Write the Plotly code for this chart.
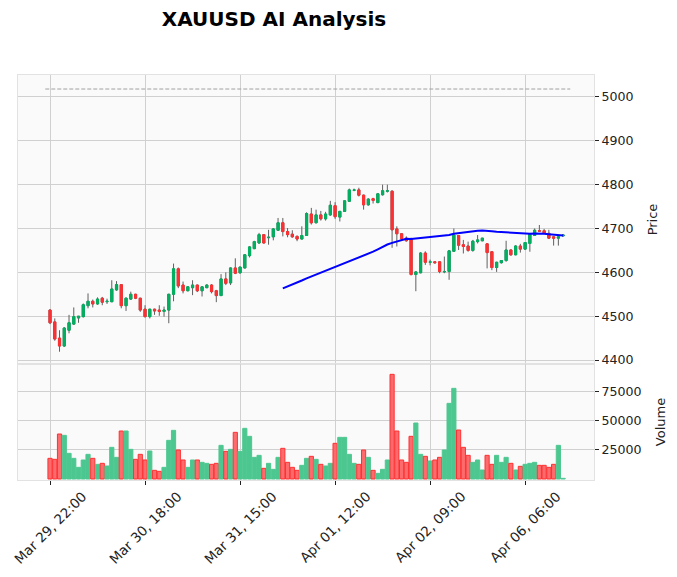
import plotly.graph_objects as go
from plotly.subplots import make_subplots
import pandas as pd

# ---------------- data ----------------
tick_positions = [0, 20, 40, 60, 80, 100]
tick_labels = ["Mar 29, 22:00", "Mar 30, 18:00", "Mar 31, 15:00",
               "Apr 01, 12:00", "Apr 02, 09:00", "Apr 06, 06:00"]

opens = [4514, 4487, 4450, 4432, 4468, 4482, 4496, 4499, 4524, 4534,
         4528, 4541, 4533, 4533, 4560, 4572, 4524, 4539, 4550, 4541,
         4516, 4499, 4516, 4514, 4511, 4514, 4550, 4608, 4571, 4558,
         4565, 4571, 4558, 4565, 4571, 4558, 4547, 4585, 4576, 4610,
         4599, 4610, 4638, 4654, 4667, 4686, 4679, 4681, 4696, 4713,
         4693, 4687, 4682, 4676, 4684, 4733, 4713, 4731, 4722, 4731,
         4752, 4726, 4739, 4762, 4787, 4788, 4776, 4754, 4768, 4759,
         4777, 4785, 4785, 4699, 4688, 4678, 4676, 4595, 4599, 4644,
         4623, 4624, 4624, 4601, 4602, 4648, 4684, 4663, 4660, 4650,
         4670, 4672, 4665, 4647, 4611, 4622, 4627, 4651, 4640, 4660,
         4653, 4666, 4684, 4695, 4695, 4689, 4681, 4678, 4683]
highs = [4516, 4495, 4468, 4475, 4503, 4520, 4500, 4529, 4552, 4538,
         4543, 4544, 4540, 4582, 4580, 4573, 4543, 4556, 4551, 4542,
         4525, 4517, 4517, 4525, 4522, 4551, 4620, 4611, 4579, 4568,
         4582, 4572, 4568, 4573, 4573, 4560, 4596, 4600, 4611, 4632,
         4613, 4641, 4660, 4672, 4690, 4687, 4697, 4701, 4724, 4724,
         4701, 4696, 4684, 4705, 4737, 4747, 4743, 4740, 4738, 4763,
         4760, 4740, 4764, 4791, 4791, 4793, 4777, 4769, 4770, 4781,
         4800, 4800, 4787, 4705, 4689, 4682, 4679, 4603, 4646, 4648,
         4629, 4625, 4625, 4636, 4651, 4700, 4685, 4674, 4670, 4674,
         4685, 4678, 4666, 4648, 4624, 4628, 4672, 4652, 4662, 4665,
         4668, 4687, 4700, 4708, 4699, 4697, 4682, 4682, 4687]
lows = [4482, 4444, 4419, 4430, 4461, 4480, 4485, 4497, 4518, 4520,
        4526, 4525, 4528, 4532, 4558, 4518, 4512, 4537, 4539, 4510,
        4497, 4495, 4503, 4501, 4499, 4484, 4534, 4564, 4552, 4557,
        4548, 4555, 4545, 4564, 4552, 4532, 4546, 4571, 4571, 4596,
        4597, 4609, 4634, 4653, 4665, 4666, 4663, 4673, 4695, 4682,
        4680, 4679, 4671, 4675, 4684, 4709, 4712, 4718, 4718, 4729,
        4722, 4716, 4738, 4761, 4785, 4773, 4743, 4752, 4757, 4758,
        4775, 4782, 4656, 4659, 4674, 4670, 4593, 4557, 4598, 4617,
        4616, 4620, 4598, 4598, 4583, 4647, 4651, 4643, 4647, 4647,
        4666, 4671, 4609, 4605, 4601, 4620, 4624, 4638, 4639, 4645,
        4651, 4647, 4683, 4693, 4688, 4676, 4661, 4661, 4682]
closes = [4485, 4448, 4432, 4473, 4485, 4499, 4500, 4526, 4534, 4528,
          4539, 4532, 4534, 4562, 4572, 4524, 4541, 4550, 4541, 4514,
          4499, 4516, 4512, 4511, 4514, 4550, 4608, 4569, 4558, 4567,
          4571, 4558, 4567, 4571, 4556, 4547, 4585, 4575, 4610, 4598,
          4612, 4640, 4658, 4670, 4686, 4667, 4680, 4699, 4713, 4693,
          4686, 4681, 4676, 4684, 4734, 4713, 4731, 4722, 4733, 4753,
          4727, 4739, 4763, 4788, 4788, 4776, 4754, 4767, 4764, 4779,
          4786, 4786, 4697, 4688, 4676, 4672, 4595, 4601, 4644, 4623,
          4624, 4622, 4602, 4602, 4649, 4685, 4662, 4659, 4650, 4671,
          4674, 4678, 4645, 4611, 4623, 4627, 4651, 4640, 4660, 4653,
          4668, 4687, 4696, 4694, 4689, 4678, 4678, 4681, 4685]
volumes = [17633, 16780, 38394, 37256, 21898, 17633, 9954, 16211, 21045, 17633,
           12514, 13367, 11092, 27018, 18486, 40954, 40954, 25312, 16780, 21045,
           16211, 23890, 7394, 6541, 9954, 32991, 41522, 24743, 16211, 9954,
           16211, 16211, 14220, 13367, 12514, 13367, 28725, 23606, 25312, 39816,
           23606, 43229, 36404, 18486, 20192, 9101, 13367, 8248, 18486, 26165,
           14220, 9954, 7394, 11661, 17633, 19340, 16780, 12514, 11092, 13367,
           30432, 35549, 35549, 21045, 13367, 12514, 24743, 18486, 7394, 4835,
           8248, 16211, 89302, 40954, 16211, 14220, 36404, 47779, 21045, 19340,
           15358, 16211, 18486, 24743, 64560, 77359, 41807, 27018, 20192, 14220,
           16211, 7679, 20192, 12514, 20192, 14220, 18486, 13367, 7679, 10807,
           12514, 13367, 14220, 11661, 11661, 9954, 12514, 28725, 569]
ma_period = 50
target_level = 5018

# ---------------- styles ----------------
UP, DOWN = "#00b060", "#fe3032"
VUP, VDOWN = "#4dc790", "#fd6b6c"
WICK = "#606060"
GRID = "#d0d0d0"
FONT = "DejaVu Sans"
TXT = "#222222"

x = list(range(len(closes)))
ma = pd.Series(closes, dtype=float).rolling(ma_period).mean()
body_hi = [max(o, c) for o, c in zip(opens, closes)]
body_lo = [min(o, c) for o, c in zip(opens, closes)]
is_up = [c >= o for o, c in zip(opens, closes)]

fig = make_subplots(rows=2, cols=1, shared_xaxes=True, vertical_spacing=0,
                    row_heights=[0.7136, 0.2864])

# wicks (grey)
fig.add_trace(go.Candlestick(
    x=x, open=opens, high=highs, low=lows, close=closes,
    increasing=dict(line=dict(color=WICK, width=1), fillcolor=UP),
    decreasing=dict(line=dict(color=WICK, width=1), fillcolor=DOWN),
    whiskerwidth=0, hoverinfo="skip"), row=1, col=1)
# bodies (coloured outline)
fig.add_trace(go.Candlestick(
    x=x, open=opens, high=body_hi, low=body_lo, close=closes,
    increasing=dict(line=dict(color=UP, width=1), fillcolor=UP),
    decreasing=dict(line=dict(color=DOWN, width=1), fillcolor=DOWN),
    whiskerwidth=0, hoverinfo="skip"), row=1, col=1)

# moving average
fig.add_trace(go.Scatter(x=x, y=ma, mode="lines",
                         line=dict(color="#0000ff", width=2), hoverinfo="skip"),
              row=1, col=1)

# target level dashed line
fig.add_trace(go.Scatter(x=[x[0] - 1, x[-1] + 1.5], y=[target_level, target_level],
                         mode="lines", line=dict(color="#a0a0a0", width=1, dash="4px,2px"),
                         hoverinfo="skip"), row=1, col=1)

# volume
fig.add_trace(go.Bar(
    x=x, y=volumes, width=0.88,
    marker=dict(color=[VUP if u else VDOWN for u in is_up],
                line=dict(color=[VUP if u else DOWN for u in is_up], width=1)),
    hoverinfo="skip"), row=2, col=1)

xrange = [-6.74, 114.5]
axis_common = dict(showgrid=True, gridcolor=GRID, gridwidth=1.2, zeroline=False,
                   showline=True, linecolor="#e2e2e2", linewidth=1, mirror=True,
                   automargin=False)

fig.update_xaxes(range=xrange, tickvals=tick_positions, ticktext=tick_labels,
                 rangeslider_visible=False, showticklabels=False, **axis_common)
fig.update_xaxes(ticks="", row=1, col=1)
fig.update_xaxes(ticks="outside", ticklen=4, tickcolor=TXT, row=2, col=1)

# x tick labels, rotated and centred on their ticks
for pos, lab in zip(tick_positions, tick_labels):
    fig.add_annotation(x=pos, xref="x2", y=0, yref="paper", text=lab,
                       textangle=-45, showarrow=False, xanchor="center", yanchor="top",
                       yshift=-6, font=dict(family=FONT, size=13.6, color=TXT))

fig.update_yaxes(side="right", ticks="outside", ticklen=4, tickcolor=TXT,
                 tickfont=dict(family=FONT, size=12.6, color=TXT), **axis_common)
fig.update_yaxes(range=[4391, 5050], tickvals=[4400, 4500, 4600, 4700, 4800, 4900, 5000],
                 tickformat="d",
                 title=dict(text="Price", font=dict(family=FONT, size=13, color=TXT), standoff=15),
                 row=1, col=1)
fig.update_yaxes(range=[-853, 98118], tickvals=[25000, 50000, 75000], tickformat="d",
                 title=dict(text="Volume", font=dict(family=FONT, size=13, color=TXT), standoff=15),
                 row=2, col=1)

fig.update_layout(
    width=677, height=577, autosize=False,
    margin=dict(l=18, r=83, t=75, b=97),
    paper_bgcolor="white", plot_bgcolor="#fafafa",
    showlegend=False, boxgap=0.35,
    title=dict(text="<b>XAUUSD AI Analysis</b>", x=274 / 677, xref="container",
               y=1 - 19 / 577, yref="container", xanchor="center", yanchor="middle",
               font=dict(family=FONT, size=20, color="black")),
    font=dict(family=FONT),
)

fig.write_html("out.html", config={"displayModeBar": False},
               post_script="document.body.style.margin='0';document.body.style.overflow='hidden';")
